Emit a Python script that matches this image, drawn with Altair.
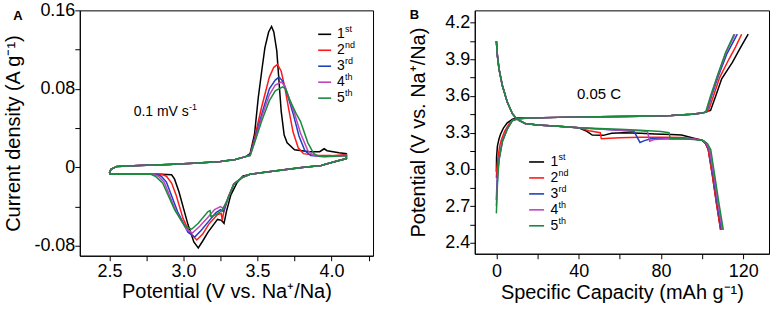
import altair as alt
import pandas as pd

FONT = "Liberation Sans"
CYCLES = ["1st", "2nd", "3rd", "4th", "5th"]
NUMS = ["1", "2", "3", "4", "5"]
SUPS = ["st", "nd", "rd", "th", "th"]
COLORS = ["#000000", "#ff1a1a", "#2140c0", "#c044c0", "#1b8a3c"]

# ---------------- Panel A: cyclic voltammetry (V, A/g) ----------------
cv_base_v = [2.50, 2.51, 2.55, 2.70, 2.90, 3.10, 3.25, 3.35, 3.42]
cv_base_i = [-0.006, -0.002, 0.001, 0.002, 0.003, 0.0045, 0.006, 0.008, 0.011]

cv1_up_v = [3.45, 3.48, 3.505, 3.53, 3.55, 3.575, 3.595, 3.61, 3.63, 3.645, 3.66, 3.68, 3.70, 3.75, 3.85, 3.92, 3.95, 3.97, 4.05, 4.10]
cv1_up_i = [0.014, 0.034, 0.071, 0.100, 0.122, 0.138, 0.1436, 0.138, 0.119, 0.088, 0.057, 0.033, 0.025, 0.018, 0.016, 0.016, 0.019, 0.017, 0.015, 0.014]
cv1_dn_v = [4.10, 4.00, 3.93, 3.80, 3.68, 3.55, 3.45, 3.40, 3.36, 3.32, 3.29, 3.274, 3.257, 3.23, 3.166, 3.13, 3.10, 3.07, 3.03, 2.97, 2.94, 2.92, 2.85, 2.70, 2.55, 2.50]
cv1_dn_i = [0.009, 0.005, 0.002, 0.000, -0.0025, -0.005, -0.007, -0.009, -0.016, -0.028, -0.045, -0.057, -0.054, -0.053, -0.066, -0.075, -0.082, -0.076, -0.058, -0.025, -0.012, -0.0075, -0.007, -0.007, -0.007, -0.007]

cv2_up_v = [3.45, 3.48, 3.527, 3.58, 3.61, 3.635, 3.66, 3.685, 3.71, 3.74, 3.775, 3.81, 3.90, 4.00, 4.10]
cv2_up_i = [0.013, 0.030, 0.061, 0.092, 0.102, 0.105, 0.098, 0.081, 0.060, 0.036, 0.020, 0.014, 0.012, 0.012, 0.013]
cv2_dn_v = [4.10, 4.00, 3.93, 3.80, 3.68, 3.55, 3.45, 3.40, 3.34, 3.30, 3.27, 3.262, 3.255, 3.23, 3.17, 3.13, 3.09, 3.04, 2.997, 2.95, 2.92, 2.885, 2.85, 2.70, 2.55, 2.50]
cv2_dn_i = [0.009, 0.005, 0.002, 0.000, -0.0025, -0.005, -0.007, -0.010, -0.017, -0.031, -0.047, -0.054, -0.047, -0.048, -0.058, -0.068, -0.074, -0.066, -0.052, -0.028, -0.016, -0.009, -0.007, -0.007, -0.007, -0.007]

cv3_up_v = [3.45, 3.48, 3.53, 3.58, 3.62, 3.645, 3.67, 3.70, 3.74, 3.78, 3.82, 3.86, 3.95, 4.10]
cv3_up_i = [0.013, 0.028, 0.055, 0.080, 0.089, 0.092, 0.088, 0.075, 0.055, 0.032, 0.017, 0.012, 0.011, 0.012]
cv3_dn_v = [4.10, 4.00, 3.93, 3.80, 3.68, 3.55, 3.45, 3.40, 3.34, 3.30, 3.27, 3.25, 3.22, 3.17, 3.12, 3.076, 3.03, 2.96, 2.885, 2.85, 2.82, 2.70, 2.55, 2.50]
cv3_dn_i = [0.009, 0.005, 0.002, 0.000, -0.0025, -0.005, -0.007, -0.010, -0.017, -0.032, -0.045, -0.043, -0.046, -0.055, -0.064, -0.071, -0.066, -0.045, -0.015, -0.009, -0.007, -0.007, -0.007, -0.007]

cv4_up_v = [3.45, 3.48, 3.53, 3.58, 3.62, 3.66, 3.685, 3.71, 3.75, 3.79, 3.84, 3.88, 3.95, 4.10]
cv4_up_i = [0.012, 0.026, 0.052, 0.074, 0.084, 0.087, 0.083, 0.072, 0.055, 0.035, 0.017, 0.012, 0.011, 0.012]
cv4_dn_v = [4.10, 4.00, 3.93, 3.80, 3.68, 3.55, 3.45, 3.40, 3.34, 3.30, 3.27, 3.25, 3.21, 3.17, 3.11, 3.06, 3.02, 2.95, 2.87, 2.83, 2.80, 2.70, 2.55, 2.50]
cv4_dn_i = [0.009, 0.005, 0.002, 0.000, -0.0025, -0.005, -0.007, -0.010, -0.017, -0.032, -0.042, -0.040, -0.043, -0.050, -0.060, -0.067, -0.063, -0.045, -0.015, -0.009, -0.007, -0.007, -0.007, -0.007]

cv5_up_v = [3.45, 3.48, 3.53, 3.58, 3.62, 3.67, 3.69, 3.72, 3.76, 3.79, 3.84, 3.88, 3.92, 4.00, 4.10]
cv5_up_i = [0.012, 0.025, 0.048, 0.068, 0.078, 0.082, 0.080, 0.068, 0.055, 0.047, 0.025, 0.014, 0.011, 0.011, 0.012]
cv5_dn_v = [4.10, 4.00, 3.93, 3.80, 3.68, 3.55, 3.45, 3.40, 3.34, 3.30, 3.26, 3.22, 3.185, 3.18, 3.166, 3.10, 3.055, 3.01, 2.94, 2.86, 2.81, 2.78, 2.70, 2.55, 2.50]
cv5_dn_i = [0.009, 0.005, 0.002, 0.000, -0.0025, -0.005, -0.007, -0.010, -0.017, -0.032, -0.044, -0.048, -0.050, -0.044, -0.045, -0.057, -0.063, -0.060, -0.043, -0.016, -0.009, -0.007, -0.007, -0.007, -0.007]

# ---------------- Panel B: charge / discharge (mAh/g, V) ----------------
ch_plat_q = [15, 30, 50, 70, 85, 95, 100]
ch_plat_v = [3.42, 3.425, 3.43, 3.435, 3.44, 3.45, 3.46]

ch1_start_q = [0, 0.1, 0.5, 1.3, 2.1, 3.5, 5.3, 7.8, 10]
ch1_start_v = [2.98, 3.10, 3.19, 3.25, 3.29, 3.34, 3.38, 3.41, 3.42]
ch1_end_q = [104.1, 106.6, 109.5, 114.7, 118.7, 122.4]
ch1_end_v = [3.482, 3.60, 3.74, 3.875, 3.997, 4.105]

ch2_start_q = [0, 0.2, 0.8, 1.6, 2.4, 4.0, 6.5, 9.0, 12]
ch2_start_v = [2.93, 3.00, 3.10, 3.19, 3.24, 3.31, 3.38, 3.41, 3.42]
ch2_end_q = [103.0, 105.5, 108.5, 113.0, 116.2, 119.2]
ch2_end_v = [3.475, 3.60, 3.75, 3.90, 4.00, 4.105]

ch3_start_q = [0, 0.3, 0.7, 1.3, 2.9, 5.3, 7.8, 10]
ch3_start_v = [2.75, 2.90, 3.00, 3.09, 3.23, 3.33, 3.40, 3.415]
ch3_end_q = [102.2, 104.6, 107.8, 111.9, 117.1]
ch3_end_v = [3.47, 3.60, 3.76, 3.94, 4.105]

ch4_start_q = [0, 0.4, 0.8, 1.3, 2.9, 5.3, 7.8, 10]
ch4_start_v = [2.70, 2.88, 2.99, 3.08, 3.225, 3.33, 3.40, 3.41]
ch4_end_q = [101.9, 104.3, 107.6, 111.6, 116.0]
ch4_end_v = [3.468, 3.60, 3.765, 3.955, 4.105]

ch5_start_q = [0, 0.5, 0.9, 1.3, 2.9, 5.3, 7.8, 10]
ch5_start_v = [2.64, 2.87, 2.99, 3.075, 3.225, 3.33, 3.40, 3.41]
ch5_end_q = [101.7, 104.1, 107.4, 111.4, 115.5]
ch5_end_v = [3.468, 3.60, 3.765, 3.956, 4.105]

dis_start_q = [0, 0.5, 1.3, 2.9, 5.3, 7.8, 9.0, 11, 14, 20, 30, 40]
dis_start_v = [4.05, 3.93, 3.82, 3.685, 3.55, 3.455, 3.43, 3.40, 3.375, 3.362, 3.352, 3.34]

dis1_q = [44, 46.6, 52, 56, 62, 70, 77, 85, 90, 96, 100, 101.7, 103, 105, 107, 109]
dis1_v = [3.31, 3.28, 3.278, 3.295, 3.30, 3.295, 3.29, 3.285, 3.28, 3.255, 3.238, 3.21, 3.16, 2.95, 2.72, 2.505]
dis2_q = [45, 50.5, 51, 55, 60, 70, 80, 90, 96, 100, 101.7, 103, 105, 107, 109]
dis2_v = [3.315, 3.30, 3.25, 3.255, 3.258, 3.262, 3.262, 3.26, 3.25, 3.238, 3.21, 3.16, 2.95, 2.72, 2.505]
dis3_q = [50, 60, 66.9, 69.8, 72, 75, 85, 95, 100.3, 102, 103.4, 105.4, 107.4, 109.5]
dis3_v = [3.33, 3.32, 3.31, 3.22, 3.235, 3.25, 3.252, 3.25, 3.235, 3.21, 3.16, 2.95, 2.72, 2.505]
dis4_q = [50, 60, 70, 73.4, 74.5, 77, 85, 95, 100.5, 102.2, 103.6, 105.7, 107.7, 109.8]
dis4_v = [3.33, 3.32, 3.315, 3.31, 3.23, 3.245, 3.252, 3.25, 3.235, 3.21, 3.16, 2.95, 2.72, 2.505]
dis5_q = [50, 60, 70, 80, 83.9, 84.5, 90, 96, 100.8, 102.6, 104.2, 106.3, 108.2, 110.3]
dis5_v = [3.335, 3.328, 3.32, 3.31, 3.30, 3.25, 3.25, 3.245, 3.235, 3.21, 3.16, 2.93, 2.72, 2.505]

# ---------------- build tables ----------------
cv_sets = [
    (cv1_up_v, cv1_up_i, cv1_dn_v, cv1_dn_i),
    (cv2_up_v, cv2_up_i, cv2_dn_v, cv2_dn_i),
    (cv3_up_v, cv3_up_i, cv3_dn_v, cv3_dn_i),
    (cv4_up_v, cv4_up_i, cv4_dn_v, cv4_dn_i),
    (cv5_up_v, cv5_up_i, cv5_dn_v, cv5_dn_i),
]
rows = []
for name, (uv, ui, dv, di) in zip(CYCLES, cv_sets):
    vs = cv_base_v + uv + dv
    cs = cv_base_i + ui + di
    for k, (v, c) in enumerate(zip(vs, cs)):
        rows.append({"cycle": name, "V": v, "I": c, "k": k})
cv_df = pd.DataFrame(rows)

ch_sets = [
    (ch1_start_q, ch1_start_v, ch1_end_q, ch1_end_v),
    (ch2_start_q, ch2_start_v, ch2_end_q, ch2_end_v),
    (ch3_start_q, ch3_start_v, ch3_end_q, ch3_end_v),
    (ch4_start_q, ch4_start_v, ch4_end_q, ch4_end_v),
    (ch5_start_q, ch5_start_v, ch5_end_q, ch5_end_v),
]
dis_sets = [(dis1_q, dis1_v), (dis2_q, dis2_v), (dis3_q, dis3_v), (dis4_q, dis4_v), (dis5_q, dis5_v)]
rows = []
for name, (sq, sv, eq, ev), (dq, dv) in zip(CYCLES, ch_sets, dis_sets):
    qs = sq + ch_plat_q + eq
    vs = sv + ch_plat_v + ev
    for k, (q, v) in enumerate(zip(qs, vs)):
        rows.append({"cycle": name, "branch": "charge", "Q": q, "V": v, "k": k})
    qs = dis_start_q + dq
    vs = dis_start_v + dv
    for k, (q, v) in enumerate(zip(qs, vs)):
        rows.append({"cycle": name, "branch": "discharge", "Q": q, "V": v, "k": k})
gc_df = pd.DataFrame(rows)

color_scale = alt.Scale(domain=CYCLES, range=COLORS)
one = pd.DataFrame({"d": [0]})


def txt(x, y, s, size, align="left", weight="normal"):
    return alt.Chart(one).mark_text(
        font=FONT, fontSize=size, align=align, baseline="middle", fontWeight=weight, color="black"
    ).encode(x=alt.value(x), y=alt.value(y), text=alt.value(s))


def legend(x0, x1, xt, y0, dy):
    layers = []
    for i in range(5):
        y = y0 + dy * i
        layers.append(alt.Chart(one).mark_rule(strokeWidth=1.6, color=COLORS[i]).encode(
            x=alt.value(x0), x2=alt.value(x1), y=alt.value(y)))
        layers.append(txt(xt, y, NUMS[i], 14))
        layers.append(txt(xt + 8, y - 5, SUPS[i], 9))
    return layers


# ---------------- Panel A ----------------
WA, HA = 294, 246
cv_line = alt.Chart(cv_df).mark_line(strokeWidth=1.5).encode(
    x=alt.X("V:Q", scale=alt.Scale(domain=[2.3, 4.28], nice=False, zero=False),
            axis=alt.Axis(values=[2.5, 2.75, 3.0, 3.25, 3.5, 3.75, 4.0, 4.25],
                          labelExpr="(round(datum.value*100)%50==0) ? format(datum.value,'.1f') : ''",
                          title="Potential (V vs. Na⁺/Na)", labelPadding=2, titlePadding=1)),
    y=alt.Y("I:Q", scale=alt.Scale(domain=[-0.09, 0.16], nice=False, zero=False),
            axis=alt.Axis(values=[-0.08, -0.04, 0, 0.04, 0.08, 0.12, 0.16],
                          labelExpr="datum.value==0 ? '0' : (abs(round(datum.value*100))%8==0 ? ((datum.value<0?'-':'') + format(abs(datum.value),'.2f')) : '')",
                          title="Current density (A g⁻¹)", labelPadding=0, titlePadding=10)),
    color=alt.Color("cycle:N", scale=color_scale, legend=None),
    order="k:Q",
)
panel_a = alt.layer(
    cv_line,
    txt(54, 102, "0.1 mV s", 14),
    txt(109.5, 97, "-1", 9),
    txt(-62, 6, "A", 13, align="center", weight="bold"),
    *legend(239, 252, 258, 24, 16),
).properties(width=WA, height=HA)

# ---------------- Panel B ----------------
WB, HB = 295, 244
gc_line = alt.Chart(gc_df).mark_line(strokeWidth=1.5).encode(
    x=alt.X("Q:Q", scale=alt.Scale(domain=[-10.5, 132.5], nice=False, zero=False),
            axis=alt.Axis(values=[0, 20, 40, 60, 80, 100, 120],
                          labelExpr="(datum.value%40==0) ? format(datum.value,'d') : ''",
                          title="Specific Capacity (mAh g⁻¹)", labelPadding=4, titlePadding=2)),
    y=alt.Y("V:Q", scale=alt.Scale(domain=[2.31, 4.3], nice=False, zero=False),
            axis=alt.Axis(values=[2.4, 2.55, 2.7, 2.85, 3.0, 3.15, 3.3, 3.45, 3.6, 3.75, 3.9, 4.05, 4.2],
                          labelExpr="(round(datum.value*100)%30==0) ? format(datum.value,'.1f') : ''",
                          title="Potential (V vs. Na⁺/Na)", labelPadding=0, titlePadding=16)),
    color=alt.Color("cycle:N", scale=color_scale, legend=None),
    detail="branch:N",
    order="k:Q",
)
panel_b = alt.layer(
    gc_line,
    txt(124.5, 83.5, "0.05 C", 15, align="center"),
    txt(-60.5, 5, "B", 13, align="center", weight="bold"),
    *legend(54.5, 69.5, 76, 152, 16),
).properties(width=WB, height=HB)

chart = alt.hconcat(panel_a, panel_b, spacing=34).properties(
    padding={"left": 3, "top": 0, "right": 0, "bottom": 0}
).configure_view(stroke="black", strokeWidth=1).configure_axis(
    grid=False, domainColor="black", domainWidth=1, tickColor="black", tickWidth=1, tickSize=5,
    labelColor="black", titleColor="black", labelFont=FONT, titleFont=FONT,
    labelFontSize=18, titleFontSize=20, titleFontWeight="normal",
)

chart.save("out.html", embed_options={"renderer": "svg", "actions": False})
